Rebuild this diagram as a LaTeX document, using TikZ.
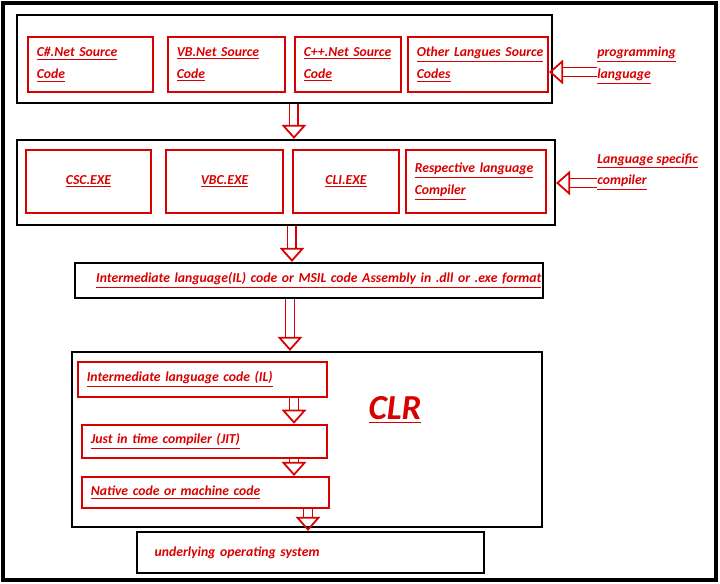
\documentclass[tikz,border=0pt]{standalone}
\usepackage{fontspec}
\setmainfont{Carlito}
\usetikzlibrary{arrows.meta,positioning}

\newcommand{\ul}[1]{\underline{#1}}

\begin{document}
\begin{tikzpicture}[x=0.02cm,y=-0.02cm,
        font=\fontsize{7.8}{12.5}\selectfont\bfseries\itshape,
        frame/.style={draw=black,line width=1.3pt,inner sep=0pt},
        rbox/.style={draw=red!85!black,line width=1.2pt,text=red!85!black,
            minimum height=1.1cm,align=left,inner sep=5pt},
        lbl/.style={text=red!85!black,align=left,inner sep=0pt,anchor=west},
        hollow/.style={draw=red!85!black,line width=1pt,double=white,double distance=4pt,
            -{Triangle[open,width=14pt,length=8pt]}}]
        \useasboundingbox (0,0) rectangle (720,583);
        \draw[line width=1.8pt] (3,3) rectangle (716,580);
        % source code
        \node[frame,minimum width=10.7cm,minimum height=1.76cm] (f1) at (284.5,59) {};
        \node[rbox,text width=2.5cm-10pt] (b1) at (90.5,64.5) {\ul{C\#.Net Source}\\\ul{Code}};
        \node[rbox,text width=2.34cm-10pt] (b2) at (226.5,64.5) {\ul{VB.Net Source}\\\ul{Code}};
        \node[rbox,text width=2.12cm-10pt] (b3) at (348,64.5) {\ul{C++.Net Source}\\\ul{Code}};
        \node[rbox,text width=2.8cm-10pt] (b4) at (478,64.5) {\ul{Other Langues Source}\\\ul{Codes}};
        \node[lbl] (pl) at (597,66) {\ul{programming}\\\ul{language}};
        % compilers
        \node[frame,minimum width=10.76cm,minimum height=1.7cm] (f2) at (286,182.5) {};
        \node[rbox,minimum height=1.26cm,minimum width=2.5cm,align=center] (c1) at (88.5,181.5) {\ul{CSC.EXE}};
        \node[rbox,minimum height=1.26cm,minimum width=2.34cm,align=center] (c2) at (224.5,181.5) {\ul{VBC.EXE}};
        \node[rbox,minimum height=1.26cm,minimum width=2.12cm,align=center] (c3) at (346,181.5) {\ul{CLI.EXE}};
        \node[rbox,minimum height=1.26cm,text width=2.8cm-10pt] (c4) at (476,181.5) {\ul{Respective language}\\\ul{Compiler}};
        \node[lbl] (lc) at (597,172) {\ul{Language specific}\\\ul{compiler}};
        % intermediate code
        \node[frame,draw=black,minimum width=9.36cm,minimum height=0.7cm,text width=9.36cm-24pt,
            text=red!85!black,align=left,inner xsep=12pt,inner ysep=2pt] (il) at (309,280.5)
            {\ul{Intermediate language(IL) code or MSIL code Assembly in .dll or .exe format}};
        % CLR
        \node[frame,minimum width=9.4cm,minimum height=3.5cm] (clr) at (307,439.5) {};
        \node[rbox,minimum height=0.7cm,text width=4.98cm-10pt] (i1) at (202.5,379.5) {\ul{Intermediate language code (IL)}};
        \node[rbox,minimum height=0.66cm,text width=4.9cm-10pt] (i2) at (204.5,441.5) {\ul{Just in time compiler (JIT)}};
        \node[rbox,minimum height=0.62cm,text width=4.94cm-10pt] (i3) at (205.5,492.5) {\ul{Native code or machine code}};
        \node[text=red!85!black,font=\fontsize{20}{24}\selectfont\bfseries\itshape] (clrt) at (395,410) {\ul{CLR}};
        \node[frame,minimum width=6.94cm,minimum height=0.82cm,text width=6.94cm-20pt,
            text=red!85!black,align=left,inner xsep=10pt,inner ysep=2pt] (os) at (310.5,552.5) {underlying operating system};
        % arrows
        \coordinate (p1) at (597,72);
        \coordinate (p2) at (597,183);
        \draw[hollow] (p1) -- (b4.east |- p1);
        \draw[hollow] (p2) -- (f2.east |- p2);
        \draw[hollow] (b3.west |- f1.south) -- (b3.west |- f2.north);
        \draw[hollow] (c3.west |- f2.south) -- (c3.west |- il.north);
        \draw[hollow] (290,0 |- il.south) -- (290,0 |- clr.north);
        \draw[hollow] (294,0 |- i1.south) -- (294,0 |- i2.north);
        \draw[hollow] (294,0 |- i2.south) -- (294,0 |- i3.north);
        \draw[hollow] (308,0 |- i3.south) -- (308,0 |- os.north);
\end{tikzpicture}
\end{document}
